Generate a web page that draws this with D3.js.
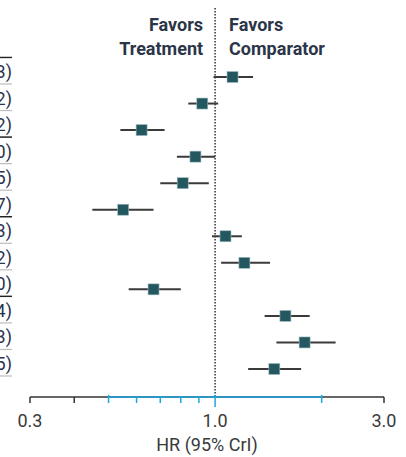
<!DOCTYPE html>
<html>
<head>
<meta charset="utf-8">
<script src="https://cdn.jsdelivr.net/npm/d3@7"></script>
<style>
  html, body { margin: 0; padding: 0; background: #fff; }
  svg { display: block; }
  text { font-family: Roboto, "Liberation Sans", sans-serif; }
</style>
</head>
<body>
<svg id="chart" width="406" height="457"></svg>
<script>
// Row labels (left column, only the trailing characters fall inside the panel)
const rowLabels = ["3)", "2)", "2)", "0)", "5)", "7)", "3)", "2)", "0)", "4)", "3)", "5)"];
// Hazard ratio point estimates and 95% credible interval bounds
const hr    = [1.12, 0.92, 0.62, 0.88, 0.81, 0.55, 1.07, 1.21, 0.67, 1.58, 1.79, 1.47];
const lower = [0.99, 0.84, 0.54, 0.78, 0.70, 0.45, 0.98, 1.04, 0.57, 1.38, 1.49, 1.24];
const upper = [1.28, 1.02, 0.72, 1.00, 0.96, 0.67, 1.19, 1.43, 0.80, 1.85, 2.19, 1.75];
// Rows that start a new comparison group (heavier rule above)
const groupStarts = [0, 3, 6, 9];
// Axis ticks
const labeledTicks = [0.3, 1.0, 3.0];
const minorTicks = [0.3, 0.4, 0.5, 0.6, 0.7, 0.8, 0.9, 1.0, 2.0, 3.0];
const highlightRange = [0.5, 2.0];

const svg = d3.select("#chart");
const x = d3.scaleLog().domain([0.3, 3.0]).range([30, 384]);
const y = d3.scalePoint().domain(d3.range(hr.length)).range([77, 369]);
const step = y.step();
const axisY = 397;
const blue = "#1ea7e1";

// Left label column with row rules
const labelG = svg.append("g");
rowLabels.forEach((lab, i) => {
  const bottom = y(i) + 7;
  labelG.append("line")
    .attr("x1", 0).attr("x2", 12)
    .attr("y1", bottom).attr("y2", bottom)
    .attr("stroke", "#bdbdbd").attr("stroke-width", 1.2);
  if (groupStarts.includes(i)) {
    labelG.append("line")
      .attr("x1", 0).attr("x2", 12)
      .attr("y1", bottom - step).attr("y2", bottom - step)
      .attr("stroke", "#222").attr("stroke-width", 1.4);
  }
  labelG.append("text")
    .attr("x", 12).attr("y", y(i) + 1)
    .attr("text-anchor", "end")
    .attr("font-size", 18)
    .attr("fill", "#2a3350")
    .text(lab);
});

// Reference line at HR = 1
svg.append("line")
  .attr("x1", x(1)).attr("x2", x(1))
  .attr("y1", 8).attr("y2", axisY)
  .attr("stroke", "#333").attr("stroke-width", 1.5)
  .attr("stroke-dasharray", "1.5,1.5");

// Header annotations
const head = svg.append("g").attr("font-weight", "bold").attr("font-size", 18).attr("fill", "#2b3548");
head.append("text").attr("x", x(1) - 12).attr("y", 31).attr("text-anchor", "end").text("Favors");
head.append("text").attr("x", x(1) - 12).attr("y", 55).attr("text-anchor", "end").text("Treatment");
head.append("text").attr("x", x(1) + 14).attr("y", 31).attr("text-anchor", "start").text("Favors");
head.append("text").attr("x", x(1) + 14).attr("y", 55).attr("text-anchor", "start").text("Comparator");

// Credible intervals
svg.append("g").selectAll("line").data(hr).join("line")
  .attr("x1", (d, i) => x(lower[i])).attr("x2", (d, i) => x(upper[i]))
  .attr("y1", (d, i) => y(i)).attr("y2", (d, i) => y(i))
  .attr("stroke", "#3a3a3a").attr("stroke-width", 2);

// Point estimates
const sq = 11;
svg.append("g").selectAll("rect").data(hr).join("rect")
  .attr("x", d => x(d) - sq / 2).attr("y", (d, i) => y(i) - sq / 2)
  .attr("width", sq).attr("height", sq)
  .attr("fill", "#245861").attr("stroke", "#9fbcc0").attr("stroke-width", 0.6);

// X axis: black outer segments, blue highlighted span
const axisG = svg.append("g");
axisG.append("line").attr("x1", x(0.3)).attr("x2", x(3.0)).attr("y1", axisY).attr("y2", axisY)
  .attr("stroke", "#333").attr("stroke-width", 1.5);
axisG.append("line").attr("x1", x(highlightRange[0])).attr("x2", x(highlightRange[1])).attr("y1", axisY).attr("y2", axisY)
  .attr("stroke", blue).attr("stroke-width", 1.5);
axisG.selectAll("line.tick").data(minorTicks).join("line")
  .attr("class", "tick")
  .attr("x1", d => x(d)).attr("x2", d => x(d))
  .attr("y1", d => (d === 0.5 || d === 1.0 || d === 2.0) ? axisY - 2 : axisY)
  .attr("y2", d => d === 1.0 ? axisY + 10 : axisY + 6)
  .attr("stroke", d => (d >= highlightRange[0] && d <= highlightRange[1]) ? blue : "#333")
  .attr("stroke-width", 1.5);
axisG.selectAll("text").data(labeledTicks).join("text")
  .attr("x", d => x(d)).attr("y", 427)
  .attr("text-anchor", "middle")
  .attr("font-size", 18)
  .attr("fill", "#3a3a3a")
  .text(d => d3.format(".1f")(d));

svg.append("text")
  .attr("x", 207).attr("y", 451)
  .attr("text-anchor", "middle")
  .attr("font-size", 18)
  .attr("fill", "#3a3a3a")
  .text("HR (95% CrI)");
</script>
</body>
</html>
